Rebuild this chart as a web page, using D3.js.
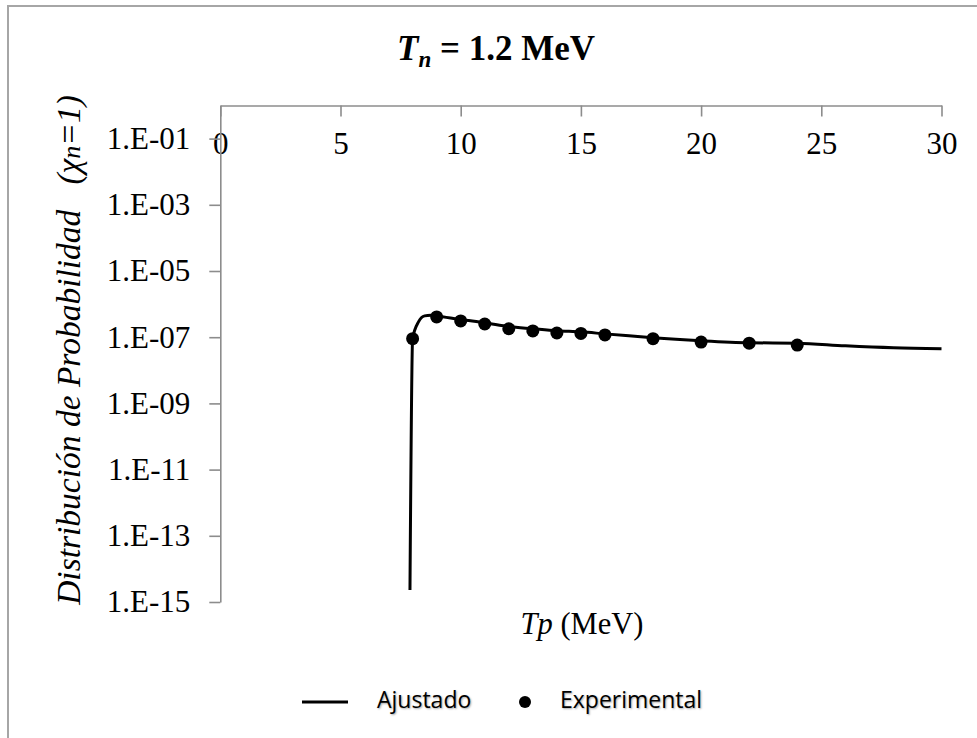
<!DOCTYPE html>
<html>
<head>
<meta charset="utf-8">
<script src="https://cdn.jsdelivr.net/npm/d3@7"></script>
<style>
  html, body { margin: 0; padding: 0; background: #fff; }
  svg { display: block; }
  .serif { font-family: "Liberation Serif", "Times New Roman", serif; }
  .legend text { font-family: "Open Sans", sans-serif; font-size: 23px; fill: #000;
                 text-shadow: 1px 1px 2px rgba(0,0,0,0.35); }
</style>
</head>
<body>
<svg id="chart" width="977" height="738"></svg>
<script>
// Experimental proton spectrum points, Tn = 1.2 MeV
const expTp = [8, 9, 10, 11, 12, 13, 14, 15, 16, 18, 20, 22, 24];
const expProb = [9.0e-8, 4.1e-7, 3.1e-7, 2.5e-7, 1.8e-7, 1.55e-7, 1.34e-7, 1.3e-7, 1.17e-7, 9.0e-8, 7.1e-8, 6.6e-8, 5.8e-8];

// Fitted curve
const fitTp = [7.89, 8.0, 8.25, 8.5, 8.75, 9, 10, 11, 12, 13, 14, 15, 16, 17, 18, 20, 22, 24, 26, 28, 30];
const fitProb = [2.3e-15, 9.0e-8, 2.95e-7, 4.4e-7, 4.6e-7, 4.4e-7, 3.4e-7, 2.75e-7, 2.1e-7, 1.8e-7, 1.56e-7,
                 1.45e-7, 1.26e-7, 1.1e-7, 9.6e-8, 7.8e-8, 6.8e-8, 6.6e-8, 5.5e-8, 4.8e-8, 4.5e-8];

// Axis ticks
const xTicks = [0, 5, 10, 15, 20, 25, 30];
const yTicks = [1e-15, 1e-13, 1e-11, 1e-9, 1e-7, 1e-5, 1e-3, 1e-1];

const svg = d3.select("#chart");

// Chart frame
svg.append("rect")
  .attr("x", 8).attr("y", 6).attr("width", 1100).attr("height", 900)
  .attr("fill", "#fff").attr("stroke", "#a6a6a6").attr("stroke-width", 2);

const plot = { left: 220.3, right: 941.5, top: 105.5, bottom: 602 };

const x = d3.scaleLinear().domain([0, 30]).range([plot.left, plot.right]);
const y = d3.scaleLog().domain([1e-15, 1e0]).range([plot.bottom, plot.top]);

const fmtExp = v => {
  const e = Math.round(Math.log10(v));
  return "1.E" + (e < 0 ? "-" : "+") + String(Math.abs(e)).padStart(2, "0");
};

// Horizontal axis drawn along the top edge
const gx = svg.append("g")
  .attr("transform", `translate(0,${plot.top})`)
  .call(d3.axisBottom(x).tickValues(xTicks).tickSizeInner(11).tickSizeOuter(0).tickPadding(15));

// Vertical log axis
const gy = svg.append("g")
  .attr("transform", `translate(${plot.left},0)`)
  .call(d3.axisLeft(y).tickValues(yTicks).tickFormat(fmtExp).tickSizeInner(11).tickSizeOuter(0).tickPadding(19));

[gx, gy].forEach(g => {
  g.select(".domain").attr("stroke", "#8c8c8c").attr("stroke-width", 1.6);
  g.selectAll(".tick line").attr("stroke", "#8c8c8c").attr("stroke-width", 1.6);
  g.selectAll(".tick text")
    .attr("class", "serif")
    .style("font-family", '"Liberation Serif", serif')
    .style("font-size", "31px")
    .attr("fill", "#000");
});

// Fitted curve
const line = d3.line().x(d => x(d[0])).y(d => y(d[1])).curve(d3.curveMonotoneX);
svg.append("path")
  .datum(fitTp.map((t, i) => [t, fitProb[i]]))
  .attr("d", line)
  .attr("fill", "none").attr("stroke", "#000").attr("stroke-width", 3)
  .attr("stroke-linejoin", "round");

// Experimental points
svg.append("g").selectAll("circle")
  .data(expTp.map((t, i) => [t, expProb[i]]))
  .join("circle")
  .attr("cx", d => x(d[0])).attr("cy", d => y(d[1]))
  .attr("r", 6.5).attr("fill", "#000");

// Title
const title = svg.append("text").attr("class", "serif")
  .attr("x", 496).attr("y", 60).attr("text-anchor", "middle")
  .style("font-size", "35px").style("font-weight", "bold").attr("fill", "#000");
title.append("tspan").style("font-style", "italic").text("T");
title.append("tspan").style("font-style", "italic").style("font-size", "23px").attr("dy", 7).text("n");
title.append("tspan").attr("dy", -7).text(" = 1.2 MeV");

// Axis titles
const xt = svg.append("text").attr("class", "serif")
  .attr("x", 582).attr("y", 634).attr("text-anchor", "middle")
  .style("font-size", "30.5px").attr("fill", "#000");
xt.append("tspan").style("font-style", "italic").text("Tp");
xt.append("tspan").text(" (MeV)");

const yt = svg.append("text").attr("class", "serif")
  .attr("transform", `translate(80,350) rotate(-90)`)
  .attr("text-anchor", "middle")
  .style("font-size", "33.5px").style("font-style", "italic").style("white-space", "pre")
  .attr("fill", "#000");
yt.append("tspan").text("Distribución de Probabilidad   (χ");
yt.append("tspan").style("font-size", "26px").text("n");
yt.append("tspan").text("=1)");

// Legend
const lg = svg.append("g").attr("class", "legend");
lg.append("line").attr("x1", 302).attr("x2", 348).attr("y1", 702).attr("y2", 702)
  .attr("stroke", "#000").attr("stroke-width", 3);
lg.append("text").attr("x", 377).attr("y", 708).text("Ajustado");
lg.append("circle").attr("cx", 525).attr("cy", 702).attr("r", 6).attr("fill", "#000");
lg.append("text").attr("x", 560).attr("y", 708).text("Experimental");
</script>
</body>
</html>
